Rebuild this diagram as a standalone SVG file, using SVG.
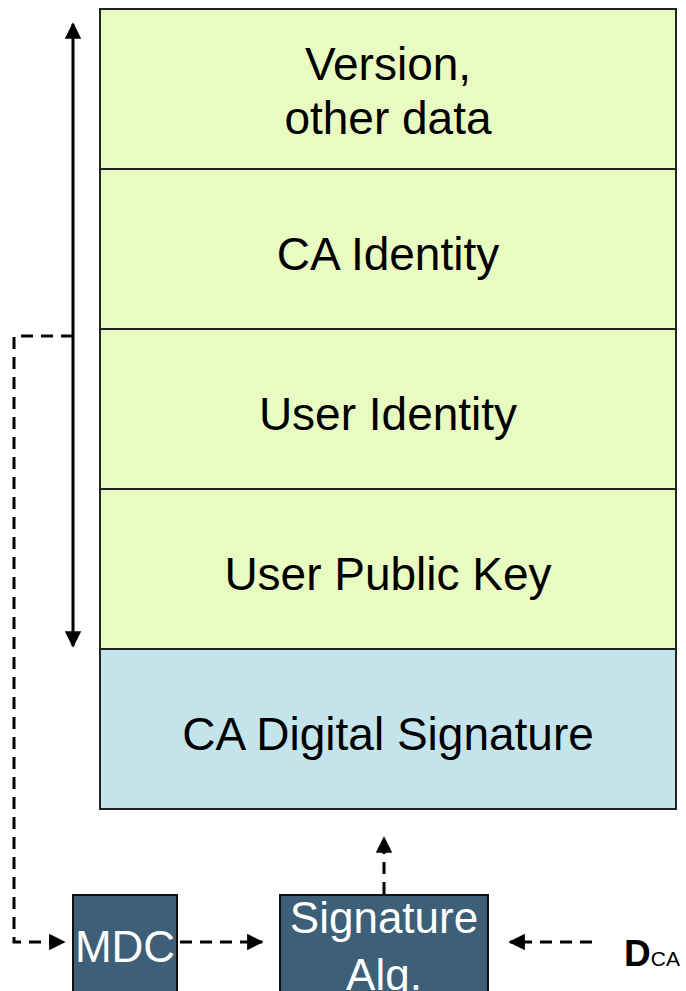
<svg xmlns="http://www.w3.org/2000/svg" width="686" height="991" viewBox="0 0 686 991">
  <defs>
    <marker id="arrow" viewBox="0 0 10 10" refX="9" refY="5" markerWidth="5.5" markerHeight="5.5" orient="auto-start-reverse" markerUnits="strokeWidth">
      <path d="M0,0 L10,5 L0,10 z" fill="#000"/>
    </marker>
    <style>
      .field { fill: #E8FBC0; stroke: #222; stroke-width: 2; }
      .sig { fill: #C4E4EC; stroke: #222; stroke-width: 2; }
      .box { fill: #3D6078; stroke: #111; stroke-width: 2; }
      .lbl { font-family: "Liberation Sans", Arial, sans-serif; font-size: 46px; fill: #000; text-anchor: middle; }
      .wlbl { font-family: "Liberation Sans", Arial, sans-serif; font-size: 44px; fill: #fff; text-anchor: middle; }
      .dash { fill: none; stroke: #000; stroke-width: 3; stroke-dasharray: 12 8; }
      .solid { fill: none; stroke: #000; stroke-width: 3; }
    </style>
  </defs>

  <!-- certificate fields -->
  <g id="version">
    <rect class="field" x="100" y="9" width="576" height="160"/>
    <text class="lbl" x="388" y="80">Version,</text>
    <text class="lbl" x="388" y="134">other data</text>
  </g>
  <g id="ca-identity">
    <rect class="field" x="100" y="169" width="576" height="160"/>
    <text class="lbl" x="388" y="270">CA Identity</text>
  </g>
  <g id="user-identity">
    <rect class="field" x="100" y="329" width="576" height="160"/>
    <text class="lbl" x="388" y="430">User Identity</text>
  </g>
  <g id="user-public-key">
    <rect class="field" x="100" y="489" width="576" height="160"/>
    <text class="lbl" x="388" y="590">User Public Key</text>
  </g>
  <g id="ca-signature">
    <rect class="sig" x="100" y="649" width="576" height="160"/>
    <text class="lbl" x="388" y="750">CA Digital Signature</text>
  </g>

  <!-- processing blocks -->
  <g id="mdc">
    <rect class="box" x="73" y="895" width="104" height="110"/>
    <text class="wlbl" x="125" y="962" font-size="40">MDC</text>
  </g>
  <g id="signature-alg">
    <rect class="box" x="280" y="895" width="208" height="110"/>
    <text class="wlbl" x="384" y="933">Signature</text>
    <text class="wlbl" x="384" y="990">Alg.</text>
  </g>
  <g id="dca">
    <text x="624" y="966" font-family="Liberation Sans, Arial, sans-serif" font-size="37" font-weight="bold" fill="#000">D<tspan font-size="21" font-weight="normal">CA</tspan></text>
  </g>

  <!-- connectors -->
  <g id="connectors">
    <line class="solid" x1="73" y1="24" x2="73" y2="646" marker-start="url(#arrow)" marker-end="url(#arrow)"/>
    <polyline class="dash" points="73,336 14,336 14,942 64,942" marker-end="url(#arrow)"/>
    <line class="dash" x1="180" y1="942" x2="262" y2="942" marker-end="url(#arrow)"/>
    <line class="dash" x1="592" y1="942" x2="510" y2="942" marker-end="url(#arrow)"/>
    <line class="dash" x1="384" y1="894" x2="384" y2="838" marker-end="url(#arrow)"/>
  </g>
</svg>
